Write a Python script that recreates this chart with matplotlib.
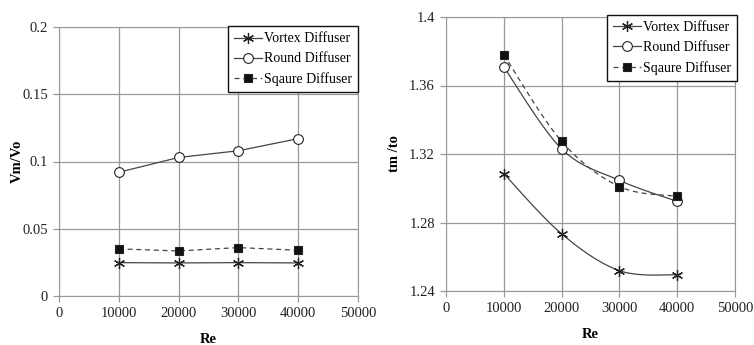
import numpy as np
import matplotlib.pyplot as plt
from matplotlib.lines import Line2D

plt.rcParams['font.family'] = ['Liberation Serif', 'DejaVu Serif']

re_vals = [10000, 20000, 30000, 40000]
series_names = ["Vortex Diffuser", "Round Diffuser", "Sqaure Diffuser"]

# left panel: Vm/Vo
vm_vortex = [0.0248, 0.0246, 0.0248, 0.0246]
vm_round = [0.092, 0.103, 0.108, 0.117]
vm_square = [0.035, 0.0335, 0.036, 0.034]

# right panel: tm/to
tm_vortex = [1.3085, 1.2734, 1.2519, 1.2494]
tm_round = [1.3708, 1.3230, 1.3046, 1.2923]
tm_square = [1.3780, 1.3274, 1.3010, 1.2953]


def smooth(x, y, n=30):
    # Excel-like smoothed line (Catmull-Rom through the points)
    x = np.asarray(x, float)
    y = np.asarray(y, float)
    px = np.concatenate([[x[0]], x, [x[-1]]])
    py = np.concatenate([[y[0]], y, [y[-1]]])
    xs, ys = [], []
    t = np.linspace(0, 1, n)
    for i in range(1, len(px) - 2):
        p0, p1, p2, p3 = [np.array([px[j], py[j]]) for j in range(i - 1, i + 3)]
        c1 = p1 + (p2 - p0) / 6
        c2 = p2 - (p3 - p1) / 6
        b = ((1 - t) ** 3)[:, None] * p1 + (3 * (1 - t) ** 2 * t)[:, None] * c1 \
            + (3 * (1 - t) * t ** 2)[:, None] * c2 + (t ** 3)[:, None] * p2
        xs.extend(b[:, 0])
        ys.extend(b[:, 1])
    return xs, ys


line_col = "#454545"
styles = [
    dict(marker=(6, 2, 0), ls="-", mfc="none", ms=8, mew=0.9),
    dict(marker="o", ls="-", mfc="white", ms=7, mew=0.8),
    dict(marker="s", ls=(0, (4, 3)), mfc="#111111", ms=6, mew=0.8),
]


def style_axes(ax, ylabel, yticks, ylabels, ylab_x):
    ax.set_xlim(0, 50000)
    ax.set_xticks([0, 10000, 20000, 30000, 40000, 50000])
    ax.set_yticks(yticks)
    ax.set_yticklabels(ylabels)
    ax.set_ylim(yticks[0], yticks[-1])
    ax.grid(True, color="#999999", lw=0.9)
    ax.set_axisbelow(True)
    for s in ax.spines.values():
        s.set_color("#999999")
    ax.tick_params(colors="#999999", labelcolor="#222222", labelsize=10.5,
                   length=4, width=0.9, pad=4)
    ax.set_xlabel("Re", fontweight="bold", fontsize=10.5, labelpad=9)
    ax.set_ylabel(ylabel, fontweight="bold", fontsize=10.5)
    ax.yaxis.set_label_coords(ylab_x, 0.5)


fig = plt.figure(figsize=(7.54, 3.45), dpi=100)
ax1 = fig.add_axes([59 / 754, 1 - 296 / 345, 299 / 754, 269 / 345])
ax2 = fig.add_axes([446 / 754, 1 - 291 / 345, 289 / 754, 274 / 345])

for data, st, name in zip([vm_vortex, vm_round, vm_square], styles, series_names):
    ax1.plot(re_vals, data, color=line_col, mec="#222222", lw=0.9, label=name, **st)

for data, st, name in zip([tm_vortex, tm_round, tm_square], styles, series_names):
    sx, sy = smooth(re_vals, data)
    ax2.plot(sx, sy, color=line_col, lw=0.9, ls=st["ls"])
    ax2.plot(re_vals, data, color=line_col, mec="#222222", lw=0, label=name,
             **{k: v for k, v in st.items() if k != "ls"})

style_axes(ax1, "Vm/Vo", [0, 0.05, 0.1, 0.15, 0.2],
           ["0", "0.05", "0.1", "0.15", "0.2"], -0.117)
style_axes(ax2, "tm /to", [1.24, 1.28, 1.32, 1.36, 1.4],
           ["1.24", "1.28", "1.32", "1.36", "1.4"], -0.156)

# legend handles with lines for both panels
handles = [Line2D([], [], color=line_col, mec="#222222", lw=0.9, **st) for st in styles]

for ax, anchor in [(ax1, (1.0, 1.003)), (ax2, (1.007, 1.007))]:
    leg = ax.legend(handles, series_names, loc="upper right", bbox_to_anchor=anchor,
                    fontsize=10, frameon=True, fancybox=False, handlelength=2.0,
                    handletextpad=0.15, borderpad=0.45, labelspacing=0.5,
                    borderaxespad=0)
    leg.get_frame().set_edgecolor("#111111")
    leg.get_frame().set_linewidth(1.0)
    leg.get_frame().set_alpha(1.0)

fig.savefig("out.png", dpi=100)
